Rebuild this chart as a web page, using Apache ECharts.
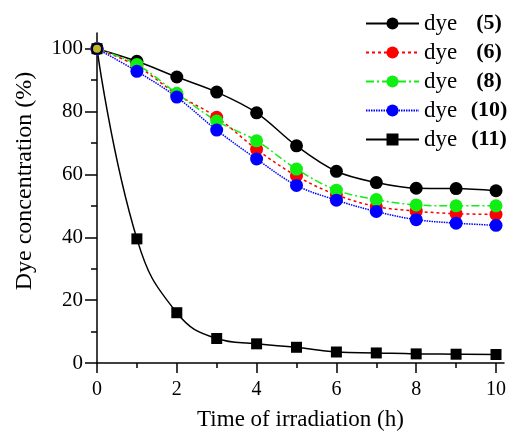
<!DOCTYPE html>
<html>
<head>
<meta charset="utf-8">
<script src="https://cdn.jsdelivr.net/npm/echarts@6/dist/echarts.min.js"></script>
<style>
  html, body { margin: 0; padding: 0; background: #fff; }
  #chart { width: 509px; height: 437px; }
</style>
</head>
<body>
<div id="chart"></div>
<script>
// irradiation time (h)
var hours = [0, 1, 2, 3, 4, 5, 6, 7, 8, 9, 10];

// dye concentration (%)
var dye5  = [100, 96, 91, 86.2, 79.6, 69.1, 61, 57.4, 55.6, 55.5, 54.8];
var dye6  = [100, 94.5, 85.5, 78.2, 68, 59.5, 53.5, 49.8, 48.3, 47.5, 47.3];
var dye8  = [100, 95, 85.8, 77, 70.7, 61.7, 55, 52, 50.3, 50, 50];
var dye10 = [100, 92.8, 84.6, 74.1, 64.9, 56.5, 51.8, 48.2, 45.6, 44.5, 43.8];
var dye11 = [100, 39.5, 16, 7.8, 6.1, 5, 3.5, 3.2, 2.9, 2.8, 2.7];

var xMajor = [0, 2, 4, 6, 8, 10];
var xMinor = [1, 3, 5, 7, 9];
var yMajor = [0, 20, 40, 60, 80, 100];
var yMinor = [10, 30, 50, 70, 90];

var legendNames = ['dye (5)', 'dye (6)', 'dye (8)', 'dye (10)', 'dye (11)'];

function pairs(ys) {
  return hours.map(function (h, i) { return [h, ys[i]]; });
}

var chart = echarts.init(document.getElementById('chart'));
var serif = 'Liberation Serif';

function line(name, data, color, symbol, size, type, smooth) {
  return {
    name: name,
    type: 'line',
    smooth: smooth,
    data: pairs(data),
    symbol: symbol,
    symbolSize: size,
    itemStyle: { color: color },
    lineStyle: { color: color, width: 1.5, type: type },
    z: 3
  };
}

var option = {
  animation: false,
  grid: { left: 97, right: 3, top: 33, bottom: 74 },
  legend: {
    data: legendNames,
    orient: 'vertical',
    left: 365,
    top: 12,
    padding: 0,
    itemWidth: 53,
    itemHeight: 15,
    itemGap: 6,
    formatter: function (name) {
      var p = name.split(' ');
      return '{a|' + p[0] + '}{b|' + p[1] + '}';
    },
    textStyle: {
      rich: {
        a: { fontFamily: serif, fontSize: 23, lineHeight: 22, color: '#000', width: 45 },
        b: { fontFamily: serif, fontSize: 22, lineHeight: 22, fontWeight: 'bold', color: '#000', width: 40, align: 'center' }
      }
    }
  },
  xAxis: [{
    type: 'value',
    min: 0,
    max: 10.2,
    name: 'Time of irradiation (h)',
    nameLocation: 'middle',
    nameGap: 45,
    nameTextStyle: { fontFamily: serif, fontSize: 23, color: '#000' },
    axisLine: { lineStyle: { color: '#000', width: 1.5 } },
    axisTick: { customValues: xMajor, length: 10, lineStyle: { color: '#000', width: 1.5 } },
    axisLabel: { customValues: xMajor, fontFamily: serif, fontSize: 20, color: '#000', margin: 17 },
    splitLine: { show: false }
  }, {
    type: 'value',
    min: 0,
    max: 10.2,
    position: 'bottom',
    axisLine: { show: false },
    axisTick: { customValues: xMinor, length: 5, lineStyle: { color: '#000', width: 1.5 } },
    axisLabel: { show: false },
    splitLine: { show: false }
  }],
  yAxis: [{
    type: 'value',
    min: 0,
    max: 105,
    name: 'Dye concentration (%)',
    nameLocation: 'middle',
    nameGap: 60,
    nameTextStyle: { fontFamily: serif, fontSize: 24, color: '#000', padding: [0, 0, 0, 34] },
    axisLine: { show: true, lineStyle: { color: '#000', width: 1.5 } },
    axisTick: { show: true, customValues: yMajor, length: 12, lineStyle: { color: '#000', width: 1.5 } },
    axisLabel: { customValues: yMajor, fontFamily: serif, fontSize: 21, color: '#000', margin: 14 },
    splitLine: { show: false }
  }, {
    type: 'value',
    min: 0,
    max: 105,
    position: 'left',
    axisLine: { show: false },
    axisTick: { show: true, customValues: yMinor, length: 6, lineStyle: { color: '#000', width: 1.5 } },
    axisLabel: { show: false },
    splitLine: { show: false }
  }],
  series: [
    line('dye (5)', dye5, '#000000', 'circle', 13, 'solid', 0.35),
    line('dye (6)', dye6, '#ff0000', 'circle', 13, [3, 3], 0.35),
    line('dye (8)', dye8, '#11ee11', 'circle', 13, [8, 3, 2, 3], 0.35),
    line('dye (10)', dye10, '#0000ff', 'circle', 13, [1.5, 1], 0.35),
    line('dye (11)', dye11, '#000000', 'rect', 11, 'solid', 0.45),
    {
      name: 'start',
      type: 'scatter',
      data: [[hours[0], dye5[0]]],
      symbol: 'circle',
      symbolSize: 8,
      itemStyle: { color: '#f5e23c' },
      z: 5
    }
  ]
};

chart.setOption(option);
</script>
</body>
</html>
